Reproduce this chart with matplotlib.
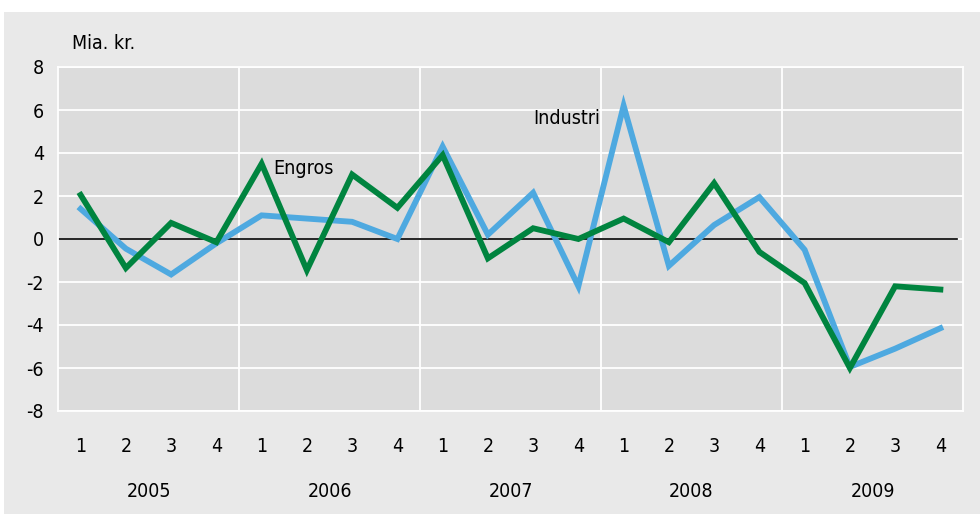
import matplotlib.pyplot as plt
import matplotlib.patches as patches
import numpy as np

plt.rcParams['font.family'] = ['DejaVu Sans']
plt.rcParams['font.stretch'] = 'condensed'

years = ['2005', '2006', '2007', '2008', '2009']
quarters = ['1', '2', '3', '4']

industri = [1.4, -0.45, -1.65, -0.2,
            1.1, 0.95, 0.8, 0.0,
            4.3, 0.2, 2.15, -2.2,
            6.2, -1.25, 0.65, 1.95,
            -0.5, -5.95, -5.1, -4.15]
engros = [2.05, -1.35, 0.75, -0.15,
          3.5, -1.45, 3.0, 1.45,
          3.9, -0.9, 0.5, 0.0,
          0.95, -0.15, 2.6, -0.6,
          -2.05, -6.0, -2.2, -2.35]

blue = '#4ea9e0'
green = '#00843f'

fig = plt.figure(figsize=(9.8, 5.14), dpi=100)
fig.patch.set_facecolor('white')
# light grey panel behind the chart
fig.patches.append(patches.Rectangle((4 / 980, 0), 976 / 980, 502 / 514,
                                     transform=fig.transFigure,
                                     facecolor='#e9e9e9', edgecolor='none', zorder=-5))

ax = fig.add_axes([58 / 980, 1 - 411 / 514, 905 / 980, 344 / 514])
ax.set_zorder(2)
ax.set_facecolor('#dcdcdc')

n = len(industri)
x = np.arange(n) + 0.5
ax.plot(x, industri, color=blue, lw=4.2, solid_joinstyle='miter', zorder=3)
ax.plot(x, engros, color=green, lw=4.2, solid_joinstyle='miter', zorder=4)
ax.plot([0, n - 0.13], [0, 0], color='black', lw=1.2, zorder=2)

ax.set_xlim(0, n)
ax.set_ylim(-8, 8)
ax.set_yticks(np.arange(-8, 9, 2))
ax.set_yticklabels([str(v) for v in range(-8, 9, 2)], fontsize=14)
ax.set_xticks(x)
ax.set_xticklabels(quarters * len(years), fontsize=14)
ax.tick_params(axis='x', length=0, pad=19)
ax.tick_params(axis='y', length=0, pad=10)

for v in range(-8, 9, 2):
    ax.axhline(v, color='white', lw=1.3, zorder=1)
for k in range(1, len(years)):
    ax.axvline(4 * k, color='white', lw=1.3, zorder=1)
for s in ax.spines.values():
    s.set_color('white')
    s.set_linewidth(1.3)

for i, yr in enumerate(years):
    ax.text(4 * i + 2, -0.235, yr, transform=ax.get_xaxis_transform(),
            ha='center', va='center', fontsize=14)

ax.text(0.31, 9.1, 'Mia. kr.', ha='left', va='center', fontsize=14, clip_on=False)
ax.text(4.75, 3.3, 'Engros', ha='left', va='center', fontsize=14)
ax.text(10.5, 5.6, 'Industri', ha='left', va='center', fontsize=14)

fig.savefig('out.png', dpi=100, facecolor=fig.get_facecolor())
